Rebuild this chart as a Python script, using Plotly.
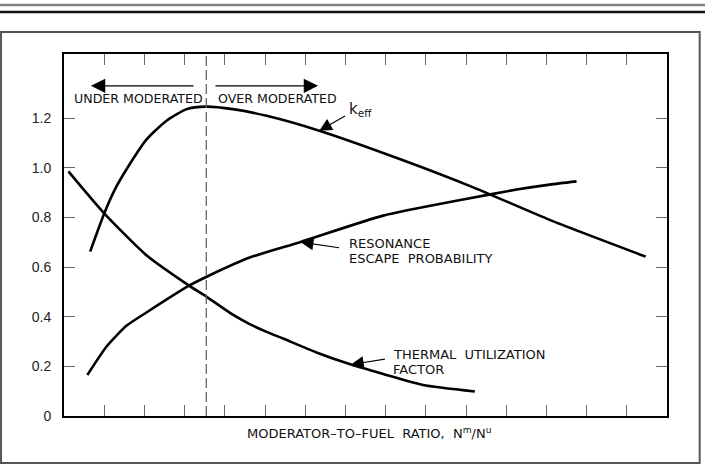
import plotly.graph_objects as go

# ---- data ----
keff_x = [0.65, 1.0, 1.27, 1.56, 2.06, 2.55, 3.05, 3.53, 4.2, 5.04, 6.35, 8.35, 10.18, 12.08, 14.47]
keff_y = [0.662, 0.816, 0.914, 0.995, 1.115, 1.189, 1.236, 1.246, 1.236, 1.209, 1.149, 1.035, 0.921, 0.790, 0.642]

therm_x = [0.11, 1.0, 2.06, 3.11, 3.55, 4.2, 4.62, 5.04, 5.45, 6.28, 7.14, 7.94, 8.93, 10.22]
therm_y = [0.985, 0.816, 0.646, 0.525, 0.480, 0.408, 0.370, 0.339, 0.312, 0.256, 0.207, 0.169, 0.125, 0.099]

reso_x = [0.58, 1.06, 1.56, 2.06, 3.11, 3.55, 4.62, 5.87, 7.94, 9.93, 11.26, 12.08, 12.75]
reso_y = [0.165, 0.280, 0.364, 0.418, 0.525, 0.561, 0.638, 0.700, 0.807, 0.872, 0.912, 0.932, 0.945]

optimum_x = 3.54
x_ticks = list(range(1, 15))
y_ticks = [0, 0.2, 0.4, 0.6, 0.8, 1.0, 1.2]
y_tick_text = ["0", "0.2", "0.4", "0.6", "0.8", "1.0", "1.2"]

LBL_FONT = dict(family="DejaVu Sans", size=13, color="#111")

fig = go.Figure()
for xs, ys in [(keff_x, keff_y), (therm_x, therm_y), (reso_x, reso_y)]:
    fig.add_trace(go.Scatter(x=xs, y=ys, mode="lines",
                             line=dict(color="black", width=2.6, shape="spline", smoothing=0.6),
                             showlegend=False, hoverinfo="skip"))

# dashed optimum line
fig.add_shape(type="line", xref="x", yref="paper", x0=optimum_x, x1=optimum_x, y0=0, y1=1,
              line=dict(color="#666", width=1.3, dash="10px,4px"))

ann = []
def arrow(xh, yh, xt, yt, w=1.3, size=2.0):
    ann.append(dict(x=xh, y=yh, ax=xt, ay=yt, xref="x", yref="y", axref="x", ayref="y", text="",
                    showarrow=True, arrowhead=2, arrowsize=size, arrowwidth=w, arrowcolor="black"))

arrow(0.67, 1.330, 3.26, 1.330, w=1.3, size=2.2)
arrow(6.32, 1.330, 3.73, 1.330, w=1.3, size=2.2)
arrow(6.35, 1.149, 7.03, 1.212, w=1.1, size=2.3)
arrow(5.89, 0.700, 6.88, 0.677, w=1.1, size=2.3)
arrow(7.14, 0.207, 8.02, 0.230, w=1.1, size=2.3)

def label(x, y, t, size=13):
    ann.append(dict(x=x, y=y, xref="x", yref="y", text=t, showarrow=False, xanchor="left", yanchor="middle",
                    align="left", font=dict(LBL_FONT, size=size)))

label(0.20, 1.279, "UNDER MODERATED", size=12.6)
label(3.78, 1.279, "OVER MODERATED", size=12.6)
label(7.04, 1.236, "k<sub>eff</sub>", size=15)
label(7.03, 0.693, "RESONANCE")
label(7.03, 0.635, "ESCAPE  PROBABILITY")
label(8.13, 0.247, "THERMAL  UTILIZATION")
label(8.13, 0.189, "FACTOR")

ann.append(dict(x=7.58, y=-0.047, xref="x", yref="paper", showarrow=False, xanchor="center", yanchor="middle",
                text="MODERATOR\u2013TO\u2013FUEL  RATIO,  N<sup>m</sup>/N<sup>u</sup>", font=LBL_FONT))

# outer frame and header rules (paper coordinates)
fig.add_shape(type="rect", xref="paper", yref="paper", x0=-0.1044, x1=1.0542, y0=-0.1298, y1=1.0608,
              line=dict(color="#555", width=2))
fig.add_shape(type="line", xref="paper", yref="paper", x0=-0.11, x1=1.11, y0=1.1354, y1=1.1354,
              line=dict(color="#808080", width=2.5))
fig.add_shape(type="line", xref="paper", yref="paper", x0=-0.11, x1=1.11, y0=1.116, y1=1.116,
              line=dict(color="#111", width=2.5))

fig.update_layout(
    width=705, height=464,
    margin=dict(l=64, r=38, t=54, b=48),
    paper_bgcolor="white", plot_bgcolor="white",
    annotations=ann,
    xaxis=dict(range=[0, 15], tickvals=x_ticks, showticklabels=False, ticks="inside", ticklen=11,
               tickcolor="#666", tickwidth=1, showline=True, linecolor="black", linewidth=2,
               mirror="allticks", showgrid=False, zeroline=False),
    yaxis=dict(range=[0, 1.458], tickvals=y_ticks, ticktext=y_tick_text, ticks="inside", ticklen=11,
               tickcolor="#666", tickwidth=1, showline=True, linecolor="black", linewidth=2,
               mirror="allticks", showgrid=False, zeroline=False, ticklabelstandoff=8,
               tickfont=dict(family="Liberation Sans", size=14, color="#222")),
)

fig.write_html("out.html")
